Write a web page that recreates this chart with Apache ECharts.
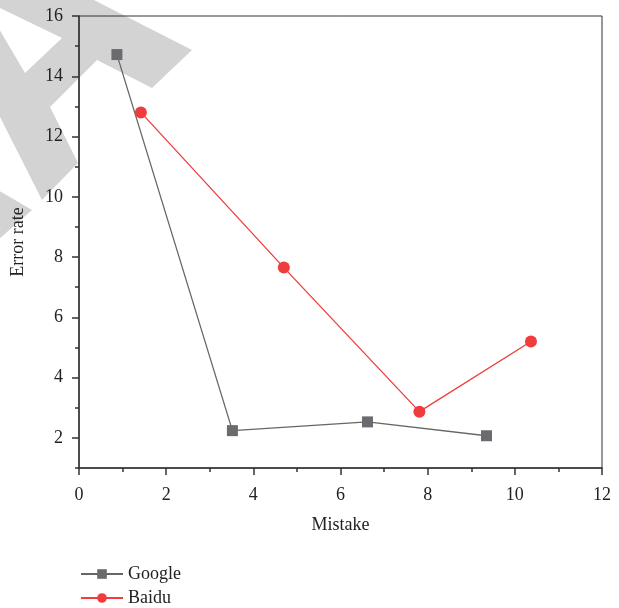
<!DOCTYPE html>
<html><head><meta charset="utf-8">
<script src="https://cdn.jsdelivr.net/npm/echarts@6/dist/echarts.min.js"></script>
<style>html,body{margin:0;padding:0;background:#fff}#c{width:619px;height:608px}</style>
</head><body><div id="c"></div>
<script>
var googleData = [[0.87, 14.72], [3.52, 2.24], [6.62, 2.53], [9.35, 2.07]];
var baiduData = [[1.42, 12.8], [4.70, 7.65], [7.81, 2.87], [10.37, 5.2]];
var yMajorTicks = [2, 4, 6, 8, 10, 12, 14, 16];
var yMinorTicks = [1, 3, 5, 7, 9, 11, 13, 15];
var seriesNames = ['Google', 'Baidu'];

var font = 'Liberation Serif';
var chart = echarts.init(document.getElementById('c'));
chart.setOption({
  animation: false,
  graphic: [
    { type: 'polygon', z: -10, silent: true, shape: { points: [[90,-2],[192,50],[152,88],[97,60],[50,107],[78,163],[42,200],[-2,113],[-2,27],[25,73],[62,38],[-2,7],[-2,-2]] }, style: { fill: '#d3d3d3' } },
    { type: 'polygon', z: -10, silent: true, shape: { points: [[-2,190],[32,210],[-2,240]] }, style: { fill: '#d3d3d3' } }
  ],
  grid: { left: 79, top: 16, width: 523, height: 452, outerBoundsMode: 'none', show: true, borderColor: '#333', borderWidth: 1, backgroundColor: 'transparent' },
  legend: {
    orient: 'vertical', left: 80, top: 565, itemWidth: 42, itemHeight: 12, itemGap: 6, padding: 0,
    textStyle: { fontFamily: font, fontSize: 18, color: '#222' },
    data: seriesNames
  },
  xAxis: {
    type: 'value', min: 0, max: 12, interval: 2,
    name: 'Mistake', nameLocation: 'middle', nameGap: 48,
    nameTextStyle: { fontFamily: font, fontSize: 18, color: '#222' },
    axisLine: { lineStyle: { color: '#333', width: 1.5 } },
    axisTick: { show: true, inside: false, length: 7, lineStyle: { color: '#333', width: 1.5 } },
    minorTick: { show: true, splitNumber: 2, length: 4, lineStyle: { color: '#333', width: 1.5 } },
    axisLabel: { fontFamily: font, fontSize: 18, color: '#222', margin: 18 },
    splitLine: { show: false }
  },
  yAxis: [{
    type: 'value', min: 1, max: 16, position: 'left',
    name: 'Error rate', nameLocation: 'middle', nameGap: 52,
    nameTextStyle: { fontFamily: font, fontSize: 18, color: '#222' },
    axisLine: { show: true, lineStyle: { color: '#333', width: 1.5 } },
    axisTick: { show: true, length: 7, customValues: yMajorTicks, lineStyle: { color: '#333', width: 1.5 } },
    axisLabel: { fontFamily: font, fontSize: 18, color: '#222', margin: 16, customValues: yMajorTicks },
    splitLine: { show: false }
  }, {
    type: 'value', min: 1, max: 16, position: 'left', offset: 0,
    axisLine: { show: false },
    axisTick: { show: true, length: 4, customValues: yMinorTicks, lineStyle: { color: '#333', width: 1.5 } },
    axisLabel: { show: false },
    splitLine: { show: false }
  }],
  series: [{
    name: seriesNames[0], type: 'line', data: googleData, yAxisIndex: 0,
    symbol: 'rect', symbolSize: 11,
    lineStyle: { color: '#666', width: 1.3 },
    itemStyle: { color: '#6a6a6f' }
  }, {
    name: seriesNames[1], type: 'line', data: baiduData, yAxisIndex: 0,
    symbol: 'circle', symbolSize: 12,
    lineStyle: { color: '#f03c3c', width: 1.3 },
    itemStyle: { color: '#f03c3c' }
  }]
});
</script></body></html>
